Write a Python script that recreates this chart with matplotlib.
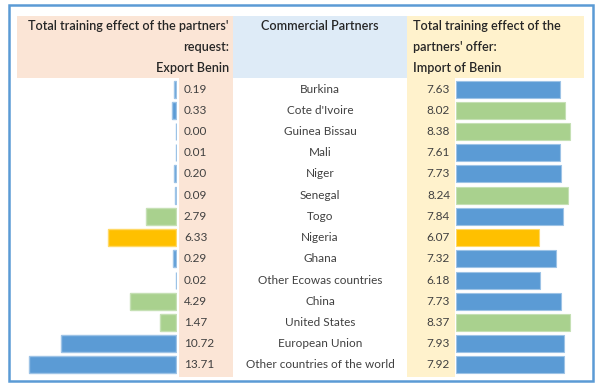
import matplotlib.pyplot as plt
from matplotlib.patches import Rectangle

partners = ['Burkina', "Cote d'Ivoire", 'Guinea Bissau', 'Mali', 'Niger', 'Senegal', 'Togo',
            'Nigeria', 'Ghana', 'Other Ecowas countries', 'China', 'United States',
            'European Union', 'Other countries of the world']
export_vals = [0.19, 0.33, 0.00, 0.01, 0.20, 0.09, 2.79, 6.33, 0.29, 0.02, 4.29, 1.47, 10.72, 13.71]
import_vals = [7.63, 8.02, 8.38, 7.61, 7.73, 8.24, 7.84, 6.07, 7.32, 6.18, 7.73, 8.37, 7.93, 7.92]
export_cols = ['b', 'b', 'b', 'b', 'b', 'b', 'g', 'y', 'b', 'b', 'g', 'g', 'b', 'b']
import_cols = ['b', 'g', 'g', 'b', 'b', 'g', 'b', 'y', 'b', 'b', 'b', 'g', 'b', 'b']

fill = {'b': '#5B9BD5', 'g': '#A9D18E', 'y': '#FFC000'}
edge = {'b': '#9DC3E6', 'g': '#C5E0B4', 'y': '#FFD966'}

plt.rcParams['font.family'] = ['Lato', 'DejaVu Sans']

W, H = 603, 391
fig = plt.figure(figsize=(W / 100, H / 100), dpi=100)


def fx(px):
    return px / W


def fy(py):
    return 1 - py / H


def box(x0, y0, x1, y1, color):
    fig.patches.append(Rectangle((fx(x0), fy(y1)), fx(x1) - fx(x0), fy(y0) - fy(y1),
                                 transform=fig.transFigure, facecolor=color,
                                 edgecolor='none', zorder=-1))


# backgrounds
box(17, 16, 233, 78, '#FBE5D6')
box(179, 78, 233, 377, '#FBE5D6')
box(233, 16, 407, 78, '#DEEBF7')
box(407, 16, 584, 78, '#FFF2CC')
box(407, 78, 455, 377, '#FFF2CC')
fig.patches.append(Rectangle((fx(9), fy(381)), fx(593) - fx(9), fy(5) - fy(381),
                             transform=fig.transFigure, facecolor='none',
                             edgecolor='#5B9BD5', linewidth=1.8, zorder=5))

top, bot = 78.5, 375.5
n = len(partners)
rows = list(range(n))

# left bars (export)
axl = fig.add_axes([fx(17), fy(bot), fx(177) - fx(17), fy(top) - fy(bot)])
axl.barh(rows, export_vals, height=0.8, color=[fill[c] for c in export_cols],
         edgecolor=[edge[c] for c in export_cols], linewidth=1.0)
axl.set_xlim(14.8, -0.1)
axl.set_ylim(n - 0.5, -0.5)
axl.axis('off')

# right bars (import)
axr = fig.add_axes([fx(456), fy(bot), fx(584) - fx(456), fy(top) - fy(bot)])
axr.barh(rows, import_vals, height=0.8, color=[fill[c] for c in import_cols],
         edgecolor=[edge[c] for c in import_cols], linewidth=0.8)
axr.set_xlim(0, 9.41)
axr.set_ylim(n - 0.5, -0.5)
axr.axis('off')

# text column axis covering the full width
axt = fig.add_axes([0, fy(bot), 1, fy(top) - fy(bot)])
axt.set_xlim(0, W)
axt.set_ylim(n - 0.5, -0.5)
axt.axis('off')
txt = '#404040'
fs = 8.5
for i in rows:
    axt.text(184, i, f'{export_vals[i]:.2f}', ha='left', va='center', fontsize=fs, color=txt)
    axt.text(320, i, partners[i], ha='center', va='center', fontsize=fs, color=txt)
    axt.text(450, i, f'{import_vals[i]:.2f}', ha='right', va='center', fontsize=fs, color=txt)

# headers
hc = '#262626'
hs = 9.05
left_hdr = ["Total training effect of the partners'", 'request:', 'Export Benin']
right_hdr = ['Total training effect of the', "partners' offer:", 'Import of Benin']
for k, py in enumerate([26, 47, 68]):
    fig.text(fx(229), fy(py), left_hdr[k], ha='right', va='center', fontsize=hs,
             color=hc, fontweight='semibold')
    fig.text(fx(413), fy(py), right_hdr[k], ha='left', va='center', fontsize=hs,
             color=hc, fontweight='semibold')
fig.text(fx(320), fy(26), 'Commercial Partners', ha='center', va='center', fontsize=hs,
         color=hc, fontweight='semibold')

fig.savefig('out.png', dpi=100)
